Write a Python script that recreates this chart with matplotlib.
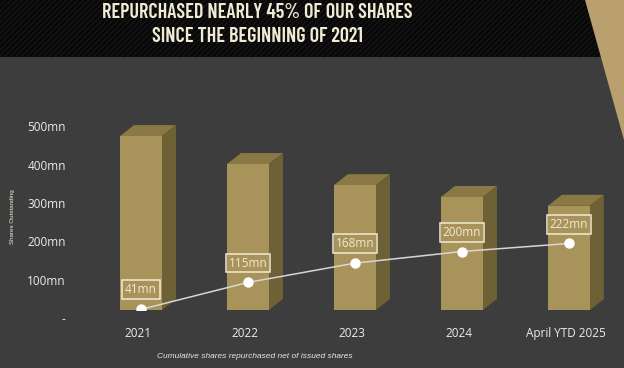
import matplotlib
matplotlib.use("Agg")
import matplotlib.pyplot as plt
from matplotlib.patches import Rectangle, Polygon
from matplotlib.transforms import ScaledTranslation

categories = ["2021", "2022", "2023", "2024", "April YTD 2025"]
shares_outstanding = [454, 381, 326, 295, 272]   # mn, bars
cum_repurchased = [41, 115, 168, 200, 222]       # mn, line
point_labels = ["41mn", "115mn", "168mn", "200mn", "222mn"]
ytick_vals = [0, 100, 200, 300, 400, 500]
ytick_labels = ["-", "100mn", "200mn", "300mn", "400mn", "500mn"]

BG = "#3d3d3d"
FRONT = "#a8935b"
TOP = "#8a7945"
SIDE = "#6f6136"
CREAM = "#f1ead4"

plt.rcParams["hatch.linewidth"] = 0.6
plt.rcParams["font.family"] = ["Open Sans", "DejaVu Sans"]

W, H = 624, 368
fig = plt.figure(figsize=(W / 100, H / 100), dpi=100, facecolor=BG)

# title band with fine diagonal texture
band = Rectangle((0, 1 - 57 / H), 1, 57 / H, transform=fig.transFigure,
                 facecolor="#080808", edgecolor="#1c1c1c", hatch="//////",
                 linewidth=0, zorder=0)
fig.patches.append(band)
gold = Polygon([(585 / W, 1), (1, 1), (1, 1 - 140 / H)], closed=True,
               transform=fig.transFigure, facecolor="#b9a06e",
               edgecolor="none", zorder=1)
fig.patches.append(gold)

title_font = ["Barlow Condensed", "DejaVu Sans"]
fig.text(257 / W, 1 - 13 / H, "REPURCHASED NEARLY 45% OF OUR SHARES",
         ha="center", va="center", color=CREAM, fontsize=14.5,
         fontweight="semibold", family=title_font)
fig.text(257 / W, 1 - 37 / H, "SINCE THE BEGINNING OF 2021",
         ha="center", va="center", color=CREAM, fontsize=14.5,
         fontweight="semibold", family=title_font)

# main axes: bars
ax = fig.add_axes([76.8 / W, 58 / H, 540.2 / W, 210.65 / H])
ax.set_facecolor("none")
x = list(range(len(categories)))
bw = 0.393      # front face width (axis units)
dx = 0.131      # depth offset, x
dy = 28.7       # depth offset, value units

for xi, v in zip(x, shares_outstanding):
    l, r = xi - bw / 2, xi + bw / 2
    ax.fill([l, r, r + dx, l + dx], [v, v, v + dy, v + dy],
            color=TOP, linewidth=0, zorder=2)
    ax.fill([r, r + dx, r + dx, r], [0, dy, v + dy, v],
            color=SIDE, linewidth=0, zorder=2)
ax.bar(x, shares_outstanding, width=bw, color=FRONT, linewidth=0, zorder=3)

ax.set_xlim(-0.6, 4.45)
ax.set_ylim(0, 550)
ax.set_yticks(ytick_vals)
ax.set_yticklabels(ytick_labels)
ax.set_xticks(x)
ax.set_xticklabels(categories)
ax.tick_params(axis="y", length=0, pad=8, labelsize=8.5, labelcolor="#ececec")
ax.tick_params(axis="x", length=0, pad=12, labelsize=8.5, labelcolor="#ececec")
for lab in ax.get_yticklabels():
    lab.set_transform(lab.get_transform() +
                      ScaledTranslation(0, -8 / 100, fig.dpi_scale_trans))
for lab in ax.get_xticklabels():
    lab.set_transform(lab.get_transform() +
                      ScaledTranslation(-3 / 100, 0, fig.dpi_scale_trans))
for s in ax.spines.values():
    s.set_visible(False)

# secondary axes: cumulative repurchased line
ax2 = ax.twinx()
ax2.set_ylim(39.3, 618)
ax2.plot(x, cum_repurchased, color="#d6d6d6", linewidth=1.1,
         marker="o", markersize=6.5, markerfacecolor="white",
         markeredgecolor="white", zorder=5)
for xi, v, t in zip(x, cum_repurchased, point_labels):
    ax2.annotate(t, (xi, v), xytext=(0, 14), textcoords="offset points",
                 ha="center", va="center", color=CREAM, fontsize=8.5,
                 bbox=dict(boxstyle="square,pad=0.25", facecolor="none",
                           edgecolor=CREAM, linewidth=1.1))
ax2.set_yticks([])
for s in ax2.spines.values():
    s.set_visible(False)

fig.text(13 / W, 1 - 217 / H, "Shares Outstanding", rotation=90,
         ha="center", va="center", color=CREAM, fontsize=4.5,
         family=["Liberation Sans", "DejaVu Sans"])
fig.text(157 / W, 1 - 357 / H, "Cumulative shares repurchased net of issued shares",
         ha="left", va="center", color="#e6e6e6", fontsize=6, style="italic",
         family=["Liberation Sans", "DejaVu Sans"])

fig.savefig("out.png", dpi=100, facecolor=BG)
plt.close(fig)
